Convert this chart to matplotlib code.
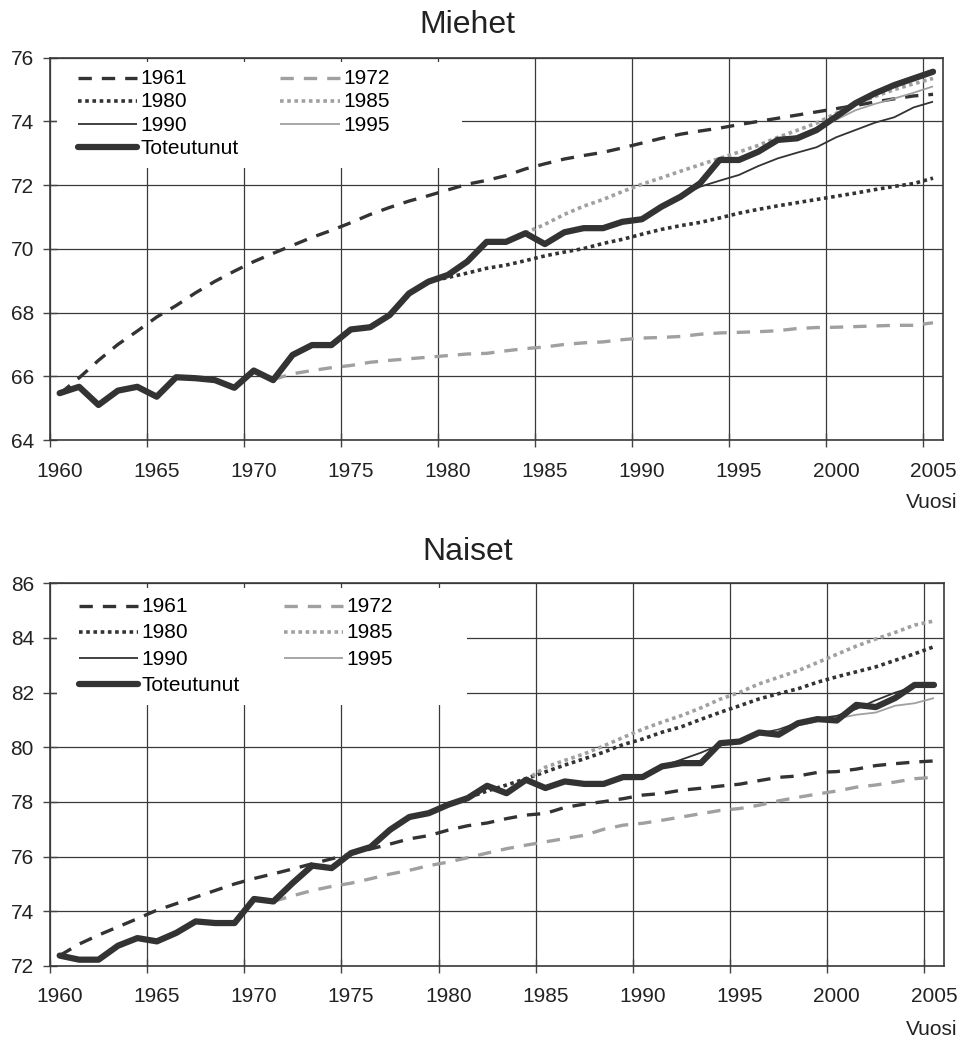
import matplotlib
matplotlib.use("Agg")
import matplotlib.pyplot as plt
from matplotlib.patches import Rectangle

plt.rcParams['font.family'] = ['Liberation Sans', 'DejaVu Sans']

DARK = '#333333'
GRAY = '#a0a0a0'

years = list(range(1960, 2006))
tick_years = [1960, 1965, 1970, 1975, 1980, 1985, 1990, 1995, 2000, 2005]

# --- Miehet ---
m_toteutunut = [65.47, 65.67, 65.10, 65.55, 65.67, 65.36, 65.97, 65.94, 65.88, 65.64,
                66.18, 65.88, 66.67, 66.98, 66.98, 67.47, 67.54, 67.92, 68.60, 68.97,
                69.18, 69.60, 70.22, 70.22, 70.49, 70.15, 70.52, 70.65, 70.65, 70.85,
                70.93, 71.32, 71.64, 72.06, 72.79, 72.79, 73.05, 73.42, 73.47, 73.73,
                74.15, 74.57, 74.88, 75.14, 75.35, 75.56]
m_1961 = [65.45, 65.95, 66.50, 67.00, 67.42, 67.86, 68.22, 68.62, 68.98, 69.30,
          69.60, 69.86, 70.11, 70.36, 70.58, 70.82, 71.08, 71.30, 71.50, 71.67,
          71.85, 72.03, 72.15, 72.30, 72.51, 72.67, 72.82, 72.93, 73.03, 73.17,
          73.32, 73.47, 73.60, 73.70, 73.79, 73.90, 74.00, 74.10, 74.20, 74.30,
          74.40, 74.50, 74.61, 74.71, 74.80, 74.85]
m_1972 = [65.90, 66.08, 66.18, 66.27, 66.34, 66.44, 66.50, 66.55, 66.60,
          66.65, 66.70, 66.72, 66.80, 66.87, 66.92, 67.00, 67.05, 67.08, 67.15,
          67.20, 67.22, 67.25, 67.32, 67.36, 67.38, 67.40, 67.43, 67.50, 67.53,
          67.54, 67.56, 67.58, 67.60, 67.60, 67.68]
m_1980 = [68.97, 69.10, 69.24, 69.39, 69.49, 69.63, 69.78, 69.90, 70.01, 70.17, 70.30,
          70.46, 70.61, 70.73, 70.83, 70.97, 71.12, 71.24, 71.35, 71.45, 71.55,
          71.65, 71.75, 71.86, 71.96, 72.05, 72.22]
m_1985 = [70.50, 70.77, 71.08, 71.34, 71.55, 71.80, 72.03, 72.23, 72.44, 72.64,
          72.84, 73.04, 73.25, 73.50, 73.72, 73.95, 74.25, 74.55, 74.78, 75.00,
          75.18, 75.35]
m_1990 = [70.93, 71.30, 71.65, 71.95, 72.14, 72.32, 72.60, 72.84, 73.02, 73.19,
          73.50, 73.73, 73.96, 74.13, 74.44, 74.62]
m_1995 = [72.79, 73.05, 73.35, 73.55, 73.80, 74.05, 74.35, 74.55, 74.72, 74.90, 75.10]

# --- Naiset ---
n_toteutunut = [72.38, 72.23, 72.23, 72.74, 73.02, 72.90, 73.21, 73.63, 73.57, 73.57,
                74.45, 74.36, 75.04, 75.67, 75.58, 76.13, 76.35, 76.98, 77.45, 77.59,
                77.90, 78.14, 78.59, 78.32, 78.81, 78.51, 78.75, 78.66, 78.66, 78.91,
                78.91, 79.30, 79.42, 79.42, 80.15, 80.21, 80.54, 80.46, 80.88, 81.03,
                80.98, 81.55, 81.47, 81.80, 82.28, 82.28]
n_1961 = [72.38, 72.80, 73.13, 73.43, 73.73, 74.04, 74.28, 74.52, 74.76, 75.00,
          75.20, 75.37, 75.55, 75.74, 75.92, 76.10, 76.28, 76.46, 76.65, 76.77,
          76.97, 77.13, 77.23, 77.39, 77.52, 77.58, 77.80, 77.92, 78.01, 78.12,
          78.25, 78.31, 78.43, 78.50, 78.58, 78.65, 78.78, 78.90, 78.95, 79.08,
          79.11, 79.20, 79.33, 79.40, 79.46, 79.50]
n_1972 = [74.36, 74.57, 74.76, 74.91, 75.03, 75.19, 75.36, 75.50, 75.67,
          75.80, 75.96, 76.13, 76.29, 76.42, 76.54, 76.66, 76.78, 77.00, 77.15,
          77.22, 77.33, 77.45, 77.57, 77.69, 77.76, 77.88, 78.04, 78.17, 78.29,
          78.40, 78.54, 78.62, 78.73, 78.85, 78.90]
n_1980 = [77.59, 77.90, 78.15, 78.40, 78.62, 78.85, 79.10, 79.35, 79.58, 79.82, 80.10,
          80.30, 80.55, 80.75, 81.02, 81.28, 81.52, 81.77, 81.96, 82.14, 82.38,
          82.58, 82.76, 82.94, 83.18, 83.42, 83.68]
n_1985 = [78.81, 79.27, 79.52, 79.76, 80.05, 80.36, 80.66, 80.92, 81.16, 81.44,
          81.76, 82.01, 82.32, 82.56, 82.80, 83.10, 83.40, 83.70, 83.96, 84.20,
          84.47, 84.62]
n_1990 = [78.91, 79.30, 79.55, 79.80, 80.10, 80.25, 80.50, 80.65, 80.90, 81.05,
          81.15, 81.40, 81.72, 82.00, 82.22, 82.35]
n_1995 = [80.21, 80.45, 80.60, 80.80, 80.95, 81.05, 81.19, 81.27, 81.52, 81.61, 81.80]

first_year = {'1961': 1960, '1972': 1971, '1980': 1979, '1985': 1984,
              '1990': 1990, '1995': 1995}

styles = {
    '1961': dict(color=DARK, lw=2.4, dashes=(4, 3)),
    '1972': dict(color=GRAY, lw=2.4, dashes=(4, 3)),
    '1980': dict(color=DARK, lw=2.6, dashes=(1, 1)),
    '1985': dict(color=GRAY, lw=2.6, dashes=(1, 1)),
    '1990': dict(color=DARK, lw=1.3),
    '1995': dict(color=GRAY, lw=1.3),
}


def draw(ax, series, actual, ylim, box, legend_anchor, spacing, colspace):
    ax.set_axisbelow(True)
    for name in ['1961', '1972', '1980', '1985', '1990', '1995']:
        vals = series[name]
        x = [first_year[name] + i + 0.5 for i in range(len(vals))]
        ax.plot(x, vals, label=name, solid_capstyle='butt',
                dash_capstyle='butt', zorder=3, **styles[name])
    ax.plot([y + 0.5 for y in years], actual, color=DARK, lw=4.5,
            solid_capstyle='round', solid_joinstyle='round',
            label='Toteutunut', zorder=4)

    ax.set_xlim(1960, 2006)
    ax.set_ylim(*ylim)
    ax.set_yticks(range(ylim[0], ylim[1] + 1, 2))
    ax.set_xticks(tick_years)
    ax.set_xticklabels([])
    # year labels sit in the middle of each year
    ax.set_xticks([y + 0.5 for y in tick_years], minor=True)
    ax.set_xticklabels([str(y) for y in tick_years], minor=True)
    ax.tick_params(which='major', direction='inout', length=10, width=1,
                   color='#444444', labelsize=15, labelcolor='#222222', pad=6.5)
    ax.tick_params(axis='x', which='minor', length=0, labelsize=15,
                   labelcolor='#222222', pad=15.5)
    ax.grid(True, which='major', color='#3a3a3a', lw=0.9)
    for sp in ax.spines.values():
        sp.set_color('#3a3a3a')
        sp.set_linewidth(1.2)

    # white area behind the legend
    ax.add_patch(Rectangle((box[0], box[1]), box[2] - box[0], box[3] - box[1],
                           transform=ax.transAxes, facecolor='white',
                           edgecolor='none', zorder=1))

    h, l = ax.get_legend_handles_labels()
    order = [0, 2, 4, 6, 1, 3, 5]
    ax.legend([h[i] for i in order], [l[i] for i in order], ncol=2,
              loc='upper left', bbox_to_anchor=legend_anchor,
              frameon=False, fontsize=15, borderpad=0, borderaxespad=0,
              handlelength=2.85, handletextpad=0.15, columnspacing=colspace,
              labelspacing=spacing, handleheight=0.5)


fig = plt.figure(figsize=(9.61, 10.38), dpi=100)
ax1 = fig.add_axes([0.052, 0.5761, 0.929, 0.3683])
ax2 = fig.add_axes([0.052, 0.0694, 0.930, 0.3687])

draw(ax1,
     {'1961': m_1961, '1972': m_1972, '1980': m_1980, '1985': m_1985,
      '1990': m_1990, '1995': m_1995},
     m_toteutunut, (64, 76), (0.008, 0.711, 0.4615, 0.989), (0.0314, 0.970),
     0.20, 2.0)
draw(ax2,
     {'1961': n_1961, '1972': n_1972, '1980': n_1980, '1985': n_1985,
      '1990': n_1990, '1995': n_1995},
     n_toteutunut, (72, 86), (0.008, 0.682, 0.467, 0.987), (0.032, 0.963),
     0.34, 2.15)

fig.text(0.486, 0.968, 'Miehet', fontsize=23, ha='center', va='baseline', color='#222222')
fig.text(0.4865, 0.4605, 'Naiset', fontsize=23, ha='center', va='baseline', color='#222222')
fig.text(0.996, 0.5106, 'Vuosi', fontsize=15, ha='right', va='baseline', color='#222222')
fig.text(0.996, 0.0025, 'Vuosi', fontsize=15, ha='right', va='baseline', color='#222222')

fig.savefig('out.png', dpi=100, facecolor='white')
